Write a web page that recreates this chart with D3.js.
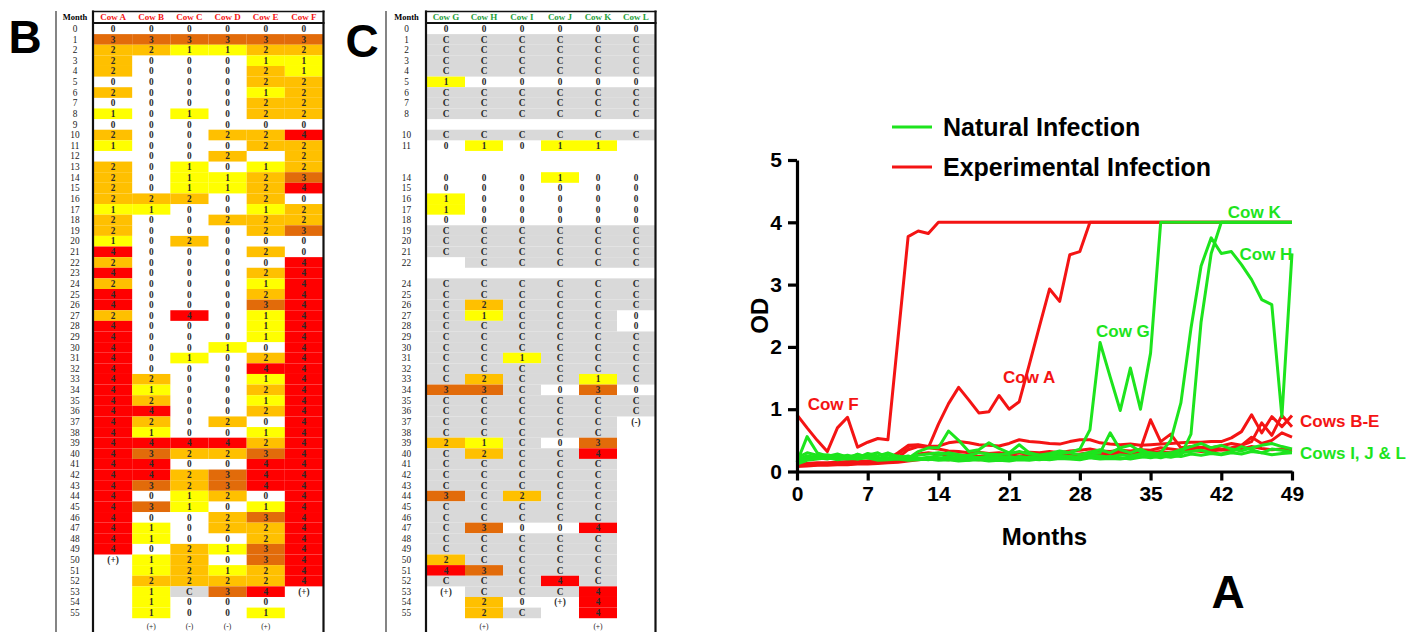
<!DOCTYPE html>
<html>
<head>
<meta charset="utf-8">
<script src="https://cdn.jsdelivr.net/npm/d3@7/dist/d3.min.js"></script>
<style>
body{margin:0;background:#fff;}
svg{display:block;}
</style>
</head>
<body>
<svg id="fig" width="1424" height="632"></svg>
<script>
// table B - experimental infection, months 0-55
var monthsB = d3.range(56).map(String);
var namesB = ["Cow A","Cow B","Cow C","Cow D","Cow E","Cow F"];
var cowA = [0,3,2,2,2,0,2,0,1,0, 2,1,"",2,2,2,2,1,2,2, 1,4,2,4,2,4,4,2,4,4, 4,4,4,4,4,4,4,4,4,4, 4,4,4,4,4,4,4,4,4,4, "(+)","","","","",""];
var cowB = [0,3,2,0,0,0,0,0,0,0, 0,0,0,0,0,0,2,1,0,0, 0,0,0,0,0,0,0,0,0,0, 0,0,0,2,1,2,4,2,1,4, 3,4,4,3,0,3,0,1,1,0, 1,1,2,1,1,1];
var cowC = [0,3,1,0,0,0,0,0,1,0, 0,0,0,1,1,1,2,0,0,0, 2,0,0,0,0,0,0,4,0,0, 0,1,0,0,0,0,0,0,0,4, 2,0,2,2,1,1,0,0,0,2, 2,2,2,"C",0,0];
var cowD = [0,3,1,0,0,0,0,0,0,0, 2,0,2,0,1,1,0,0,2,0, 0,0,0,0,0,0,0,0,0,0, 1,0,0,0,0,0,0,2,0,4, 2,0,3,3,2,0,2,2,0,1, 0,1,2,3,0,0];
var cowE = [0,3,2,1,2,2,1,2,2,0, 2,2,"",1,2,2,2,1,2,2, 0,2,0,2,1,2,3,1,1,1, 0,2,4,1,2,1,2,0,1,2, 3,4,4,4,0,1,3,2,2,3, 3,2,2,4,0,1];
var cowF = [0,3,2,1,1,2,2,2,2,0, 4,2,2,2,3,4,0,2,2,3, 0,0,4,4,4,4,4,4,4,4, 4,4,4,4,4,4,4,4,4,4, 4,4,4,4,4,4,4,4,4,4, 4,4,4,"(+)","",""];
var footB = ["","(+)","(-)","(-)","(+)",""];

// table C - natural infection
var monthsC = ["0","1","2","3","4","5","6","7","8","","10","11","","","14","15","16","17","18","19","20","21","22","","24","25","26","27","28","29","30","31","32","33","34","35","36","37","38","39","40","41","42","43","44","45","46","47","48","49","50","51","52","53","54","55"];
var namesC = ["Cow G","Cow H","Cow I","Cow J","Cow K","Cow L"];
var cowG = [0,"C","C","C","C",1,"C","C","C","", "C",0,"","",0,0,1,1,0,"C", "C","C","","","C","C","C","C","C","C", "C","C","C","C",3,"C","C","C","C",2, "C","C","C","C",3,"C","C","C","C","C", 2,4,"C","(+)","",""];
var cowH = [0,"C","C","C","C",0,"C","C","C","", "C",1,"","",0,0,0,0,0,"C", "C","C","C","","C","C",2,1,"C","C", "C","C","C",2,3,"C","C","C","C",1, 2,"C","C","C","C","C","C",3,"C","C", "C",3,"C","C",2,2];
var cowI = [0,"C","C","C","C",0,"C","C","C","", "C",0,"","",0,0,0,0,0,"C", "C","C","C","","C","C","C","C","C","C", "C",1,"C","C","C","C","C","C","C","C", "C","C","C","C",2,"C","C",0,"C","C", "C","C","C","C",0,"C"];
var cowJ = [0,"C","C","C","C",0,"C","C","C","", "C",1,"","",1,0,0,0,0,"C", "C","C","C","","C","C","C","C","C","C", "C","C","C","C",0,"C","C","C","C",0, "C","C","C","C","C","C","C",0,"C","C", "C","C",4,"C","(+)",""];
var cowK = [0,"C","C","C","C",0,"C","C","C","", "C",1,"","",0,0,0,0,0,"C", "C","C","C","","C","C","C","C","C","C", "C","C","C",1,3,"C","C","C","C",3, 4,"C","C","C","C","C","C",4,"C","C", "C","C","C",4,4,4];
var cowL = [0,"C","C","C","C",0,"C","C","C","", "C","","","",0,0,0,0,0,"C", "C","C","C","","C","C","C",0,0,"C", "C","C","C","C",0,"C","C","(-)","","", "","","","","","","","","","", "","","","","",""];
var footC = ["","(+)","","","(+)",""];

// panel A - OD by month (0-49)
var odMonths = d3.range(50);
var odA = [0.12,0.11,0.12,0.13,0.14,0.14,0.15,0.16,0.18,0.20, 0.28,0.40,0.42,0.38,0.76,1.09,1.35,1.15,0.94,0.96, 1.22,1.00,1.12,1.72,2.33,2.93,2.73,3.48,3.53,4, 4,4,4,4,4,4,4,4,4,4, 4,4,4,4,4,4,4,4,4,4];
var odB = [0.08,0.09,0.10,0.10,0.11,0.11,0.12,0.12,0.13,0.14, 0.15,0.17,0.19,0.21,0.20,0.19,0.21,0.20,0.19,0.20, 0.21,0.20,0.22,0.23,0.22,0.24,0.23,0.25,0.26,0.27, 0.26,0.28,0.27,0.29,0.36,0.83,0.48,0.60,0.38,0.40, 0.38,0.36,0.35,0.38,0.42,0.55,0.45,0.50,0.62,0.55];
var odC = [0.10,0.11,0.12,0.13,0.13,0.14,0.14,0.15,0.16,0.17, 0.18,0.22,0.28,0.30,0.28,0.26,0.27,0.25,0.24,0.25, 0.24,0.26,0.25,0.27,0.26,0.28,0.27,0.26,0.28,0.30, 0.29,0.28,0.30,0.29,0.31,0.30,0.32,0.30,0.33,0.34, 0.32,0.33,0.35,0.34,0.36,0.40,0.37,0.35,0.36,0.34];
var odD = [0.12,0.13,0.14,0.14,0.15,0.16,0.16,0.17,0.18,0.19, 0.22,0.35,0.40,0.38,0.36,0.33,0.32,0.30,0.31,0.29, 0.30,0.28,0.30,0.31,0.30,0.32,0.30,0.33,0.34,0.36, 0.33,0.32,0.34,0.33,0.35,0.34,0.38,0.36,0.34,0.37, 0.39,0.38,0.41,0.45,0.42,0.48,0.78,0.58,0.90,0.72];
var odE = [0.10,0.10,0.11,0.12,0.12,0.13,0.14,0.15,0.17,0.20, 0.30,0.42,0.43,0.40,0.41,0.46,0.48,0.46,0.43,0.42, 0.41,0.45,0.51,0.48,0.47,0.45,0.44,0.48,0.51,0.51, 0.46,0.44,0.43,0.44,0.42,0.43,0.44,0.45,0.46,0.47, 0.47,0.48,0.48,0.54,0.64,0.91,0.62,0.88,0.72,0.90];
var odF = [0.91,0.70,0.50,0.32,0.70,0.87,0.39,0.47,0.53,0.51, 2.14,3.77,3.86,3.82,4,4,4,4,4,4, 4,4,4,4,4,4,4,4,4,4, 4,4,4,4,4,4,4,4,4,4, 4,4,4,4,4,4,4,4,4,4];
var odG = [0.15,0.56,0.30,0.25,0.22,0.24,0.20,0.26,0.30,0.22, 0.25,0.21,0.32,0.38,0.38,0.65,0.50,0.32,0.35,0.46, 0.37,0.30,0.43,0.30,0.26,0.27,0.30,0.31,0.36,0.67, 2.07,1.52,0.98,1.66,1.00,1.90,4,4,4,4, 4,4,4,4,4,4,4,4,4,4];
var odH = [0.14,0.20,0.22,0.21,0.23,0.20,0.22,0.24,0.21,0.20, 0.22,0.20,0.21,0.19,0.22,0.20,0.23,0.21,0.22,0.20, 0.22,0.24,0.21,0.23,0.22,0.25,0.23,0.24,0.22,0.26, 0.25,0.23,0.27,0.25,0.28,0.26,0.30,0.50,1.10,2.30, 3.30,3.75,3.50,3.53,3.32,3.08,2.76,2.68,0.88,3.50];
var odI = [0.18,0.25,0.22,0.20,0.24,0.21,0.28,0.22,0.20,0.27, 0.22,0.25,0.20,0.22,0.26,0.30,0.27,0.24,0.22,0.25, 0.22,0.20,0.24,0.22,0.20,0.22,0.26,0.24,0.22,0.28, 0.30,0.62,0.35,0.30,0.36,0.28,0.25,0.27,0.30,0.32, 0.34,0.30,0.28,0.32,0.40,0.35,0.30,0.36,0.34,0.31];
var odJ = [0.20,0.22,0.25,0.27,0.23,0.26,0.22,0.29,0.25,0.30, 0.24,0.22,0.26,0.28,0.30,0.28,0.25,0.26,0.30,0.28, 0.27,0.29,0.32,0.28,0.26,0.29,0.33,0.30,0.27,0.31, 0.35,0.30,0.38,0.42,0.32,0.30,0.28,0.30,0.35,0.40, 0.45,0.38,0.42,0.36,0.33,0.38,0.42,0.45,0.40,0.36];
var odK = [0.12,0.18,0.20,0.22,0.19,0.21,0.20,0.22,0.18,0.19, 0.20,0.18,0.19,0.20,0.18,0.19,0.17,0.18,0.19,0.17, 0.18,0.17,0.19,0.18,0.20,0.19,0.21,0.20,0.19,0.22, 0.20,0.21,0.20,0.22,0.24,0.22,0.25,0.23,0.26,0.60, 2.40,3.50,4,4,4,4,4,4,4,4];
var odL = [0.22,0.30,0.26,0.24,0.28,0.23,0.27,0.24,0.22,0.20, 0.21,0.19,0.20,0.23,0.21,0.24,0.20,0.18,0.22,0.20, 0.21,0.19,0.22,0.20,0.19,0.21,0.24,0.22,0.20,0.23, 0.21,0.24,0.22,0.20,0.23,0.25,0.22,0.26,0.24,0.28, 0.26,0.29,0.27,0.30,0.28,0.32,0.30,0.27,0.29,0.30];
var xTicks = [0,7,14,21,28,35,42,49];
var yTicks = [0,1,2,3,4,5];
var cowLabels = [
  {t:"Cow K", m:42.65, v:4.07, c:"nat"},
  {t:"Cow H", m:43.8, v:3.4, c:"nat"},
  {t:"Cow G", m:29.6, v:2.16, c:"nat"},
  {t:"Cow A", m:20.4, v:1.42, c:"exp"},
  {t:"Cow F", m:1.06, v:0.98, c:"exp"},
  {t:"Cows B-E", m:49.8, v:0.72, c:"exp"},
  {t:"Cows I, J & L", m:49.8, v:0.205, c:"nat"}
];

var RED = "#f41414", GREEN = "#1de41d";
var cellFill = {"1":"#ffff00","2":"#ffc000","3":"#e26b0a","4":"#ff0000","C":"#d9d9d9"};
var svg = d3.select("#fig");
var serif = "'Liberation Serif','Times New Roman',serif";
var sans = "'Liberation Sans',Arial,Helvetica,sans-serif";

function drawTable(months, names, cols, foot, left, x0, x1, headColor){
  var g = svg.append("g");
  var rowY = d3.scaleBand().domain(d3.range(months.length)).range([23.5, 23.5 + months.length*10.62]);
  var colX = d3.scaleBand().domain(names).range([x0, x1]);
  var cells = [];
  cols.forEach(function(vals, ci){
    vals.forEach(function(v, i){ cells.push({name:names[ci], i:i, v:String(v)}); });
  });
  g.selectAll("rect.cell").data(cells.filter(function(d){ return cellFill[d.v]; }))
    .enter().append("rect").attr("class","cell")
    .attr("x", function(d){ return colX(d.name); })
    .attr("y", function(d){ return rowY(d.i); })
    .attr("width", colX.bandwidth())
    .attr("height", rowY.bandwidth())
    .attr("fill", function(d){ return cellFill[d.v]; });
  g.selectAll("text.val").data(cells.filter(function(d){ return d.v !== ""; }))
    .enter().append("text").attr("class","val")
    .attr("x", function(d){ return colX(d.name) + colX.bandwidth()/2; })
    .attr("y", function(d){ return rowY(d.i) + rowY.bandwidth()/2 + 3.2; })
    .attr("text-anchor","middle")
    .style("font", "bold 9.3px " + serif)
    .attr("fill", "#2a2a2a")
    .text(function(d){ return d.v; });
  g.selectAll("text.month").data(months)
    .enter().append("text").attr("class","month")
    .attr("x", (left + x0)/2)
    .attr("y", function(d, i){ return rowY(i) + rowY.bandwidth()/2 + 3.2; })
    .attr("text-anchor","middle")
    .style("font", "9.3px " + serif)
    .attr("fill", "#222")
    .text(function(d){ return d; });
  // footer row sits right at the bottom edge
  g.selectAll("text.foot").data(foot)
    .enter().append("text").attr("class","foot")
    .attr("x", function(d, i){ return colX(names[i]) + colX.bandwidth()/2; })
    .attr("y", 628.5)
    .attr("text-anchor","middle")
    .style("font", "7.5px " + serif)
    .attr("fill", "#222")
    .text(function(d){ return d; });
  // header
  g.append("text").attr("x", (left + x0)/2).attr("y", 20)
    .attr("text-anchor","middle").style("font", "bold 8.5px " + serif).text("Month");
  g.selectAll("text.head").data(names)
    .enter().append("text").attr("class","head")
    .attr("x", function(d){ return colX(d) + colX.bandwidth()/2; })
    .attr("y", 20)
    .attr("text-anchor","middle")
    .style("font", "bold 9px " + serif)
    .attr("fill", headColor)
    .text(function(d){ return d; });
  // frame
  g.append("line").attr("x1", left).attr("x2", left).attr("y1", 11).attr("y2", 632).attr("stroke","#333").attr("stroke-width",1.2);
  g.append("line").attr("x1", x0 - 1).attr("x2", x0 - 1).attr("y1", 10.5).attr("y2", 632).attr("stroke","#111").attr("stroke-width",2.2);
  g.append("line").attr("x1", x1 + 0.5).attr("x2", x1 + 0.5).attr("y1", 10.5).attr("y2", 632).attr("stroke","#111").attr("stroke-width",2.2);
  g.append("line").attr("x1", x0 - 2).attr("x2", x1 + 1.5).attr("y1", 11.5).attr("y2", 11.5).attr("stroke","#111").attr("stroke-width",1.6);
  g.append("line").attr("x1", x0 - 2).attr("x2", x1 + 1.5).attr("y1", 23).attr("y2", 23).attr("stroke","#111").attr("stroke-width",2);
}

drawTable(monthsB, namesB, [cowA,cowB,cowC,cowD,cowE,cowF], footB, 56, 94, 323, RED);
drawTable(monthsC, namesC, [cowG,cowH,cowI,cowJ,cowK,cowL], footC, 386, 427, 655, "#1f9e3a");

// panel letters
svg.append("text").attr("x", 25).attr("y", 53).attr("text-anchor","middle").style("font","bold 46px " + sans).text("B");
svg.append("text").attr("x", 362).attr("y", 57).attr("text-anchor","middle").style("font","bold 46px " + sans).text("C");
svg.append("text").attr("x", 1228).attr("y", 608).attr("text-anchor","middle").style("font","bold 46px " + sans).text("A");

// chart A
var x = d3.scaleLinear().domain([0, 49]).range([797, 1292]);
var y = d3.scaleLinear().domain([0, 5]).range([471.5, 160]);
var chart = svg.append("g");

var series = [
  {vals:odB, c:RED},{vals:odC, c:RED},{vals:odD, c:RED},{vals:odE, c:RED},{vals:odA, c:RED},{vals:odF, c:RED},
  {vals:odI, c:GREEN},{vals:odJ, c:GREEN},{vals:odL, c:GREEN},{vals:odG, c:GREEN},{vals:odH, c:GREEN},{vals:odK, c:GREEN}
];
var line = d3.line().x(function(d, i){ return x(odMonths[i]); }).y(function(d){ return y(d); });
chart.selectAll("path.cow").data(series).enter().append("path").attr("class","cow")
  .attr("d", function(s){ return line(s.vals); })
  .attr("fill","none")
  .attr("stroke", function(s){ return s.c; })
  .attr("stroke-width", 3)
  .attr("stroke-linejoin","round");

var xAxis = chart.append("g").attr("transform","translate(0," + y(0) + ")")
  .call(d3.axisBottom(x).tickValues(xTicks).tickSize(9).tickPadding(6).tickSizeOuter(0));
var yAxis = chart.append("g").attr("transform","translate(" + x(0) + ",0)")
  .call(d3.axisLeft(y).tickValues(yTicks).tickFormat(d3.format("d")).tickSize(9).tickPadding(6).tickSizeOuter(0));
[xAxis, yAxis].forEach(function(a){
  a.select(".domain").attr("stroke","#000").attr("stroke-width",3.2);
  a.selectAll(".tick line").attr("stroke","#000").attr("stroke-width",3.2);
  a.selectAll(".tick text").attr("fill","#000").style("font","bold 21px " + sans);
});

chart.append("text").attr("x", (x(0) + x(49))/2).attr("y", 545).attr("text-anchor","middle")
  .style("font","bold 24px " + sans).text("Months");
chart.append("text").attr("transform","translate(768," + y(2.5) + ") rotate(-90)").attr("text-anchor","middle")
  .style("font","bold 24px " + sans).text("OD");

chart.selectAll("text.lab").data(cowLabels).enter().append("text").attr("class","lab")
  .attr("x", function(d){ return x(d.m); })
  .attr("y", function(d){ return y(d.v); })
  .attr("fill", function(d){ return d.c === "nat" ? GREEN : RED; })
  .style("font","bold 17px " + sans)
  .text(function(d){ return d.t; });

// legend
var legend = [{t:"Natural Infection", c:GREEN},{t:"Experimental Infection", c:RED}];
var lg = chart.selectAll("g.leg").data(legend).enter().append("g").attr("class","leg")
  .attr("transform", function(d, i){ return "translate(892," + (127 + i*40) + ")"; });
lg.append("line").attr("x1",0).attr("x2",40).attr("stroke", function(d){ return d.c; }).attr("stroke-width",3);
lg.append("text").attr("x",51).attr("y",9).style("font","bold 25px " + sans).text(function(d){ return d.t; });
</script>
</body>
</html>
